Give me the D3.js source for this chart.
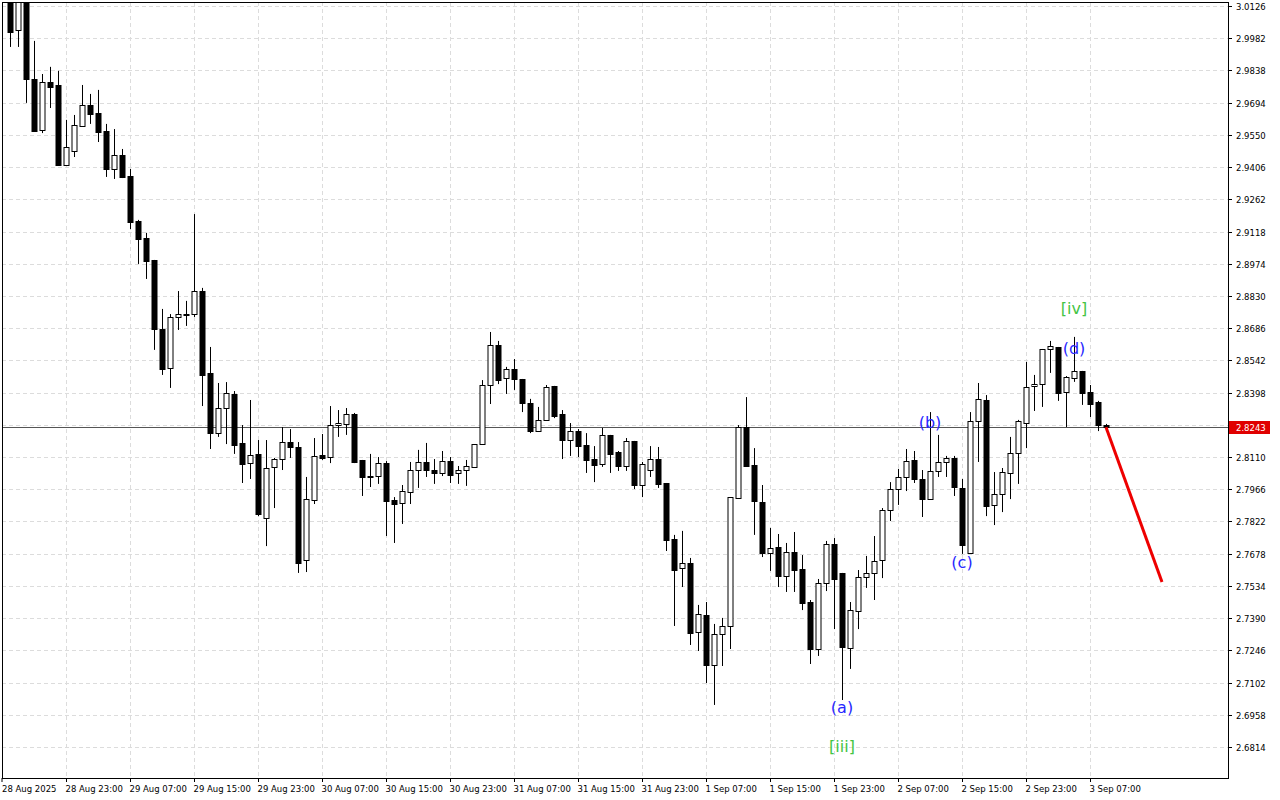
<!DOCTYPE html>
<html>
<head>
<meta charset="utf-8">
<script src="https://cdn.jsdelivr.net/npm/d3@7"></script>
<style>
  body { margin: 0; background: #fff; }
  text { font-family: "DejaVu Sans", sans-serif; }
</style>
</head>
<body>
<div id="chart-area"></div>
<script>
// Velas horarias (O, H, L, C)
var opens = [3.0175,3.0019,3.0166,2.9800,2.9572,2.9786,2.9773,2.9415,2.9478,2.9590,2.9684,2.9648,2.9567,2.9398,2.9460,2.9366,2.9165,2.9089,2.8991,2.8682,
  2.8508,2.8736,2.8749,2.8749,2.8852,2.8486,2.8217,2.8329,2.8392,2.8173,2.8083,2.8124,2.7838,2.8066,2.8101,2.8177,2.8155,2.7650,2.7918,2.8119,
  2.8110,2.8253,2.8258,2.8302,2.8097,2.8025,2.8025,2.8083,2.7918,2.7905,2.7954,2.8052,2.8088,2.8052,2.8039,2.8092,2.8039,2.8052,2.8066,2.8168,
  2.8432,2.8611,2.8463,2.8504,2.8459,2.8352,2.8226,2.8276,2.8428,2.8302,2.8186,2.8226,2.8164,2.8101,2.8079,2.8209,2.8133,2.8070,2.8182,2.7985,
  2.8052,2.8101,2.7994,2.7744,2.7614,2.7636,2.7328,2.7404,2.7180,2.7319,2.7355,2.7927,2.8244,2.8074,2.7909,2.7681,2.7708,2.7578,2.7686,2.7610,
  2.7462,2.7252,2.7547,2.7721,2.7592,2.7256,2.7422,2.7574,2.7592,2.7650,2.7873,2.7967,2.8021,2.8097,2.8012,2.7922,2.8048,2.8088,2.8106,2.7972,
  2.7681,2.8271,2.8365,2.7896,2.7945,2.8039,2.8128,2.8262,2.8428,2.8437,2.8593,2.8602,2.8401,2.8463,2.8495,2.8401,2.8356,2.8253];
var highs = [3.0198,3.0175,3.0189,2.9970,2.9822,2.9854,2.9836,2.9617,2.9639,2.9773,2.9733,2.9751,2.9599,2.9576,2.9487,2.9398,2.9170,2.9112,2.8991,2.8772,
  2.8749,2.8852,2.8808,2.9196,2.8866,2.8602,2.8441,2.8445,2.8405,2.8253,2.8365,2.8186,2.8186,2.8106,2.8244,2.8235,2.8177,2.8021,2.8195,2.8213,
  2.8338,2.8320,2.8329,2.8307,2.8097,2.8124,2.8110,2.8092,2.7931,2.7985,2.8088,2.8142,2.8173,2.8101,2.8137,2.8110,2.8070,2.8097,2.8168,2.8454,
  2.8669,2.8629,2.8513,2.8548,2.8459,2.8370,2.8334,2.8432,2.8428,2.8320,2.8262,2.8235,2.8217,2.8159,2.8240,2.8209,2.8137,2.8195,2.8182,2.8088,
  2.8159,2.8155,2.7994,2.7762,2.7780,2.7659,2.7449,2.7462,2.7364,2.7391,2.7931,2.8253,2.8378,2.8150,2.7985,2.7793,2.7766,2.7726,2.7775,2.7672,
  2.7471,2.7565,2.7735,2.7748,2.7592,2.7462,2.7605,2.7668,2.7757,2.7882,2.7998,2.8057,2.8146,2.8137,2.8052,2.8311,2.8209,2.8115,2.8115,2.8012,
  2.8311,2.8441,2.8387,2.8043,2.8061,2.8200,2.8276,2.8535,2.8477,2.8593,2.8629,2.8602,2.8472,2.8647,2.8495,2.8432,2.8361,2.8258];
var lows = [2.9943,2.9943,2.9693,2.9565,2.9558,2.9670,2.9413,2.9411,2.9451,2.9588,2.9599,2.9518,2.9362,2.9353,2.9357,2.9129,2.8973,2.8906,2.8589,2.8477,
  2.8419,2.8678,2.8696,2.8736,2.8338,2.8146,2.8200,2.8168,2.8124,2.7994,2.8012,2.7846,2.7712,2.7882,2.8052,2.8106,2.7592,2.7596,2.7900,2.8097,
  2.8083,2.8200,2.8209,2.8083,2.7936,2.7976,2.7990,2.7757,2.7726,2.7811,2.7900,2.7972,2.8021,2.7990,2.8025,2.7994,2.7990,2.7981,2.8066,2.8168,
  2.8347,2.8436,2.8392,2.8410,2.8311,2.8217,2.8222,2.8276,2.8284,2.8101,2.8115,2.8110,2.8039,2.7998,2.8066,2.8039,2.8048,2.8048,2.7967,2.7931,
  2.8021,2.7972,2.7690,2.7355,2.7529,2.7270,2.7243,2.7100,2.7002,2.7176,2.7252,2.7927,2.8070,2.7762,2.7663,2.7601,2.7529,2.7507,2.7507,2.7426,
  2.7185,2.7221,2.7511,2.7341,2.7024,2.7163,2.7341,2.7525,2.7471,2.7569,2.7824,2.7896,2.7958,2.7994,2.7842,2.7922,2.8021,2.8021,2.7936,2.7677,
  2.7681,2.8088,2.7846,2.7806,2.7864,2.7922,2.7990,2.8150,2.8316,2.8334,2.8486,2.8361,2.8244,2.8446,2.8343,2.8289,2.8226,2.8235];
var closes = [3.0010,3.0153,2.9800,2.9567,2.9786,2.9764,2.9415,2.9496,2.9594,2.9684,2.9643,2.9563,2.9398,2.9460,2.9362,2.9161,2.9085,2.8986,2.8682,2.8504,
  2.8736,2.8749,2.8747,2.8852,2.8477,2.8217,2.8329,2.8396,2.8164,2.8079,2.8119,2.7855,2.8061,2.8101,2.8177,2.8155,2.7636,2.7922,2.8115,2.8106,
  2.8253,2.8262,2.8302,2.8088,2.8021,2.8023,2.8083,2.7914,2.7900,2.7958,2.8052,2.8088,2.8052,2.8039,2.8092,2.8030,2.8052,2.8070,2.8168,2.8432,
  2.8611,2.8454,2.8504,2.8459,2.8352,2.8226,2.8276,2.8423,2.8293,2.8186,2.8226,2.8159,2.8097,2.8074,2.8209,2.8124,2.8070,2.8182,2.7985,2.8079,
  2.8101,2.7990,2.7739,2.7605,2.7636,2.7324,2.7409,2.7180,2.7319,2.7355,2.7931,2.8244,2.8070,2.7914,2.7681,2.7703,2.7578,2.7686,2.7605,2.7458,
  2.7252,2.7547,2.7721,2.7565,2.7261,2.7426,2.7574,2.7592,2.7645,2.7873,2.7967,2.8021,2.8092,2.8012,2.7922,2.8048,2.8088,2.8106,2.7976,2.7717,
  2.8271,2.8369,2.7891,2.7945,2.8043,2.8128,2.8271,2.8423,2.8437,2.8593,2.8606,2.8396,2.8468,2.8495,2.8396,2.8347,2.8253,2.8243];

// Etiquetas del eje de tiempo
var timeLabels = ["28 Aug 2025","28 Aug 23:00","29 Aug 07:00","29 Aug 15:00","29 Aug 23:00","30 Aug 07:00","30 Aug 15:00","30 Aug 23:00",
  "31 Aug 07:00","31 Aug 15:00","31 Aug 23:00","1 Sep 07:00","1 Sep 15:00","1 Sep 23:00","2 Sep 07:00","2 Sep 15:00","2 Sep 23:00","3 Sep 07:00"];
var timeIdx = [-1,7,15,23,31,39,47,55,63,71,79,87,95,103,111,119,127,135];

// Etiquetas del eje de precios
var priceTicks = [3.0126,2.9982,2.9838,2.9694,2.9550,2.9406,2.9262,2.9118,2.8974,2.8830,2.8686,2.8542,2.8398,2.8254,
  2.8110,2.7966,2.7822,2.7678,2.7534,2.7390,2.7246,2.7102,2.6958,2.6814];
var currentPrice = 2.8243;

// Proyección (flecha roja)
var forecastIdx = [137, 144];
var forecastVal = [2.8243, 2.7551];

// Ondas
var waveText = ["[iv]","(d)","(b)","(c)","(a)","[iii]"];
var waveIdx = [133, 133, 115, 119, 104, 104];
var waveVal = [2.8749, 2.8571, 2.8240, 2.7614, 2.6966, 2.6792];
var waveColor = ["#44c444","#2828ff","#2828ff","#2828ff","#2828ff","#44c444"];

var W = 1280, H = 800;
var pL = 2, pR = 1228, pT = 2, pB = 778;

var svg = d3.select("#chart-area").append("svg")
    .attr("width", W)
    .attr("height", H);

var x = d3.scaleLinear().domain([0, 137]).range([10, 1106]);
var y = d3.scaleLinear().domain([2.6814, 3.0126]).range([747, 6]);
function yc(v) { return Math.max(y(v), pT); }   // recorte superior

// Rejilla
var grid = svg.append("g").attr("stroke", "#dcdcdc").attr("stroke-dasharray", "4,3");
priceTicks.forEach(function(p) {
    grid.append("line").attr("x1", pL).attr("x2", pR)
        .attr("y1", Math.round(y(p)) + 0.5).attr("y2", Math.round(y(p)) + 0.5);
});
timeIdx.slice(1).forEach(function(i) {
    grid.append("line").attr("y1", pT).attr("y2", pB)
        .attr("x1", Math.round(x(i)) + 0.5).attr("x2", Math.round(x(i)) + 0.5);
});

// Línea de precio actual
svg.append("line")
    .attr("x1", pL).attr("x2", pR)
    .attr("y1", Math.round(y(currentPrice)) + 0.5).attr("y2", Math.round(y(currentPrice)) + 0.5)
    .attr("stroke", "#555").attr("stroke-width", 1);

// Velas
var candles = svg.append("g");
opens.forEach(function(o, i) {
    var c = closes[i];
    var cx = Math.round(x(i)) + 0.5;
    candles.append("line")
        .attr("x1", cx).attr("x2", cx)
        .attr("y1", yc(highs[i])).attr("y2", y(lows[i]))
        .attr("stroke", "#000");
    var yt = Math.round(yc(Math.max(o, c))), yb = Math.round(y(Math.min(o, c)));
    candles.append("rect")
        .attr("x", cx - 2.5).attr("y", yt + 0.5)
        .attr("width", 5).attr("height", Math.max(yb - yt, 1))
        .attr("fill", c < o ? "#000" : "#fff")
        .attr("stroke", "#000").attr("stroke-width", 1);
});

// Flecha de pronóstico
svg.append("line")
    .attr("x1", x(forecastIdx[0])).attr("y1", y(forecastVal[0]))
    .attr("x2", x(forecastIdx[1])).attr("y2", y(forecastVal[1]))
    .attr("stroke", "#ee0000").attr("stroke-width", 3);

// Etiquetas de ondas
waveText.forEach(function(t, k) {
    svg.append("text")
        .attr("x", x(waveIdx[k])).attr("y", y(waveVal[k]))
        .attr("text-anchor", "middle")
        .attr("font-size", 16)
        .attr("fill", waveColor[k])
        .text(t);
});

// Marco
svg.append("rect")
    .attr("x", pL + 0.5).attr("y", pT + 0.5)
    .attr("width", pR - pL).attr("height", pB - pT)
    .attr("fill", "none").attr("stroke", "#000");

// Eje de precios
priceTicks.forEach(function(p) {
    var yy = Math.round(y(p)) + 0.5;
    svg.append("line").attr("x1", pR).attr("x2", pR + 4)
        .attr("y1", yy).attr("y2", yy).attr("stroke", "#000");
    svg.append("text")
        .attr("x", pR + 8).attr("y", yy + 3)
        .attr("font-size", 8.5).attr("fill", "#000")
        .text(p.toFixed(4));
});

// Etiqueta del precio actual
var cy = Math.round(y(currentPrice));
svg.append("rect")
    .attr("x", pR + 1).attr("y", cy - 6)
    .attr("width", 41).attr("height", 13)
    .attr("fill", "#e00000");
svg.append("text")
    .attr("x", pR + 8).attr("y", cy + 4)
    .attr("font-size", 8.5).attr("fill", "#fff")
    .text(currentPrice.toFixed(4));

// Eje de tiempo
timeLabels.forEach(function(t, k) {
    var xx = k === 0 ? pL : Math.round(x(timeIdx[k])) + 0.5;
    svg.append("line").attr("x1", xx).attr("x2", xx)
        .attr("y1", pB).attr("y2", pB + 4).attr("stroke", "#000");
    svg.append("text")
        .attr("x", k === 0 ? pL : xx - 1).attr("y", pB + 14)
        .attr("font-size", 8.5).attr("fill", "#000")
        .text(t);
});
</script>
</body>
</html>
